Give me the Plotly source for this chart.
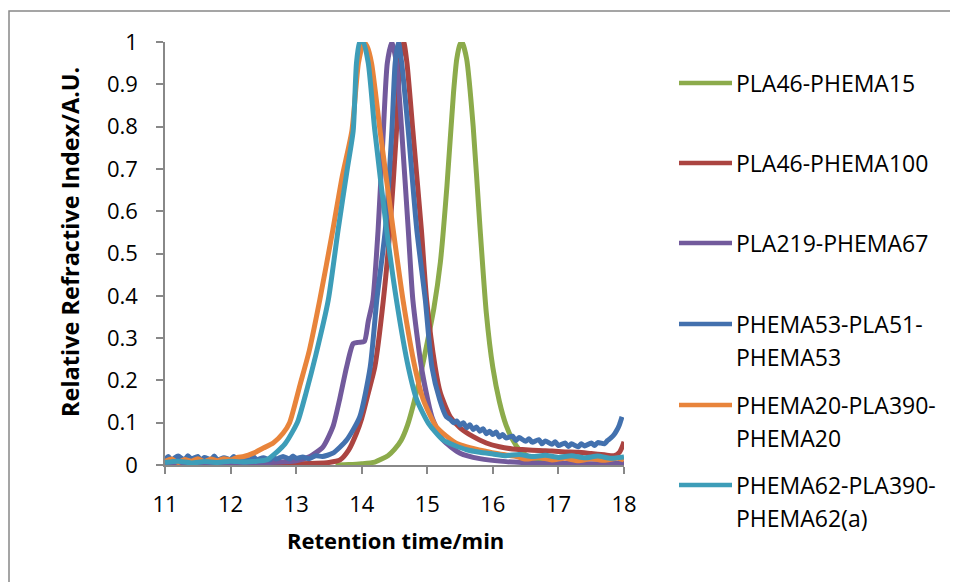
import plotly.graph_objects as go

# retention time (min) / relative refractive index
green_t = [13.6, 13.8, 14.0, 14.2, 14.4, 14.5, 14.6, 14.7, 14.8, 14.9, 15.0, 15.1, 15.2, 15.3, 15.4,
           15.45, 15.5, 15.53, 15.6, 15.7, 15.8, 15.9, 16.0, 16.1, 16.2, 16.3, 16.4, 16.5, 16.6, 16.8, 17.0]
green_ri = [0.0, 0.001, 0.003, 0.007, 0.022, 0.037, 0.058, 0.095, 0.15, 0.215, 0.29, 0.37, 0.48, 0.66, 0.88,
            0.96, 0.995, 1.0, 0.96, 0.8, 0.57, 0.36, 0.23, 0.15, 0.095, 0.06, 0.037, 0.024, 0.015, 0.007, 0.004]

red_t = [11.0, 11.5, 12.0, 12.5, 13.0, 13.3, 13.5, 13.67, 13.8, 13.92, 14.0, 14.1, 14.2, 14.33, 14.43, 14.53,
         14.58, 14.64, 14.69, 14.78, 14.91, 14.99, 15.12, 15.2, 15.35, 15.5, 15.7, 15.9, 16.1, 16.3, 16.5, 16.7,
         16.9, 17.1, 17.3, 17.5, 17.7, 17.85, 17.93, 17.97, 18.0]
red_ri = [0.003, 0.002, 0.004, 0.002, 0.003, 0.004, 0.006, 0.012, 0.035, 0.075, 0.11, 0.17, 0.232, 0.39, 0.556, 0.79,
          0.95, 1.0, 0.95, 0.79, 0.556, 0.39, 0.232, 0.17, 0.114, 0.088, 0.067, 0.052, 0.043, 0.038, 0.036, 0.034,
          0.033, 0.031, 0.03, 0.027, 0.024, 0.022, 0.03, 0.042, 0.055]

purple_t = [11.0, 11.4, 11.8, 12.2, 12.6, 13.0, 13.21, 13.41, 13.56, 13.67, 13.77, 13.87, 13.95, 14.04, 14.1,
            14.17, 14.25, 14.33, 14.39, 14.46, 14.53, 14.61, 14.71, 14.78, 14.91, 15.07, 15.24, 15.5, 15.8,
            16.2, 16.6, 17.0, 17.5, 18.0]
purple_ri = [0.005, 0.004, 0.006, 0.005, 0.006, 0.01, 0.02, 0.043, 0.09, 0.16, 0.232, 0.287, 0.29, 0.292, 0.34,
             0.39, 0.556, 0.79, 0.95, 1.0, 0.95, 0.79, 0.556, 0.39, 0.232, 0.114, 0.059, 0.028, 0.015,
             0.008, 0.005, 0.004, 0.003, 0.004]

blue_t = [11.0, 11.05, 11.1, 11.15, 11.2, 11.3, 11.35, 11.4, 11.5, 11.55, 11.6, 11.7, 11.75, 11.8, 11.9, 12.0,
          12.05, 12.1, 12.2, 12.3, 12.35, 12.4, 12.5, 12.6, 12.65, 12.7, 12.8, 12.9, 12.95, 13.0, 13.1, 13.2,
          13.3, 13.4, 13.56, 13.77, 13.97, 14.13, 14.23, 14.36, 14.46, 14.51,
          14.56, 14.61, 14.71, 14.84, 14.97, 15.07, 15.19, 15.29, 15.35, 15.4, 15.45, 15.5, 15.55, 15.6, 15.65,
          15.7, 15.75, 15.8, 15.85, 15.9, 15.95, 16.0, 16.05, 16.1, 16.15, 16.2, 16.3, 16.35, 16.4, 16.5, 16.55,
          16.6, 16.7, 16.75, 16.8, 16.9, 16.95, 17.0, 17.1, 17.15, 17.2, 17.3, 17.35, 17.4, 17.5, 17.55, 17.6,
          17.7, 17.75, 17.8, 17.85, 17.89, 17.93, 17.97, 18.0]
blue_ri = [0.012, 0.02, 0.01, 0.017, 0.021, 0.012, 0.022, 0.014, 0.02, 0.011, 0.018, 0.013, 0.021, 0.012, 0.017,
           0.013, 0.02, 0.011, 0.016, 0.012, 0.019, 0.013, 0.017, 0.012, 0.019, 0.014, 0.02, 0.014, 0.021, 0.016,
           0.019, 0.015, 0.022, 0.02, 0.028, 0.059, 0.114, 0.232, 0.39, 0.556, 0.79, 0.95,
           1.0, 0.95, 0.79, 0.556, 0.39, 0.232, 0.154, 0.114, 0.108, 0.1, 0.104, 0.094, 0.1, 0.088, 0.095,
           0.084, 0.09, 0.08, 0.086, 0.074, 0.08, 0.072, 0.078, 0.066, 0.072, 0.064, 0.068, 0.058, 0.065, 0.056,
           0.062, 0.054, 0.06, 0.05, 0.057, 0.049, 0.055, 0.046, 0.052, 0.044, 0.05, 0.043, 0.05, 0.045, 0.052,
           0.046, 0.053, 0.05, 0.058, 0.064, 0.072, 0.082, 0.095, 0.114]

orange_t = [11.0, 11.1, 11.2, 11.3, 11.4, 11.5, 11.6, 11.7, 11.8, 11.9, 12.0, 12.1, 12.2, 12.35, 12.5, 12.65,
            12.8, 12.9, 13.06, 13.2, 13.36, 13.56, 13.7, 13.85, 13.95, 14.03, 14.08, 14.15, 14.28, 14.48, 14.63,
            14.81, 14.94, 15.14, 15.45, 15.9, 16.1, 16.36, 16.5, 16.7, 16.9, 17.1, 17.3, 17.5, 17.7, 17.9, 18.0]
orange_ri = [0.008, 0.014, 0.006, 0.013, 0.009, 0.015, 0.008, 0.014, 0.01, 0.015, 0.012, 0.018, 0.02, 0.028,
             0.04, 0.052, 0.075, 0.1, 0.19, 0.27, 0.39, 0.556, 0.68, 0.79, 0.95, 1.0, 0.99, 0.95, 0.79, 0.556,
             0.39, 0.232, 0.154, 0.09, 0.051, 0.032, 0.026, 0.02, 0.014, 0.018, 0.012, 0.016, 0.01, 0.015, 0.011,
             0.016, 0.012]

cyan_t = [11.0, 11.2, 11.4, 11.6, 11.8, 12.0, 12.2, 12.4, 12.55, 12.7, 12.83, 12.95, 13.03, 13.15, 13.3, 13.49,
          13.64, 13.78, 13.87, 13.92, 13.97, 14.02, 14.1, 14.2, 14.38, 14.53, 14.71, 14.84, 15.02, 15.24, 15.6,
          15.8, 16.0, 16.2, 16.4, 16.6, 16.8, 17.0, 17.2, 17.4, 17.6, 17.8, 18.0]
cyan_ri = [0.006, 0.009, 0.005, 0.008, 0.006, 0.009, 0.007, 0.009, 0.012, 0.03, 0.05, 0.08, 0.105, 0.17, 0.26,
           0.39, 0.556, 0.7, 0.79, 0.95, 1.0, 1.0, 0.95, 0.79, 0.556, 0.39, 0.232, 0.154, 0.098, 0.059, 0.036,
           0.03, 0.026, 0.022, 0.025, 0.02, 0.023, 0.018, 0.022, 0.017, 0.021, 0.016, 0.019]

names = ["PLA46-PHEMA15", "PLA46-PHEMA100", "PLA219-PHEMA67",
         "PHEMA53-PLA51-PHEMA53", "PHEMA20-PLA390-PHEMA20", "PHEMA62-PLA390-PHEMA62(a)"]
legend_lines = [["PLA46-PHEMA15"], ["PLA46-PHEMA100"], ["PLA219-PHEMA67"],
                ["PHEMA53-PLA51-", "PHEMA53"], ["PHEMA20-PLA390-", "PHEMA20"], ["PHEMA62-PLA390-", "PHEMA62(a)"]]
colors = ["#8cab4b", "#ab4441", "#725a9c", "#4371ae", "#e8843b", "#3d9db8"]
series = [(green_t, green_ri), (red_t, red_ri), (purple_t, purple_ri),
          (blue_t, blue_ri), (orange_t, orange_ri), (cyan_t, cyan_ri)]

FONT = "Open Sans"
AXIS_GREY = "#888888"

# plot area in page pixels: x 165..624, y 42..465 (page body adds 8px offset)
L, R, T, B = 165, 624, 42, 465
W, H = 958, 582
OFF = 8


def px(x):
    return (x - L) / (R - L)


def py(y):
    return (B - y) / (B - T)


fig = go.Figure()
for (t, ri), name, c in zip(series, names, colors):
    fig.add_trace(go.Scatter(x=t, y=ri, mode="lines", name=name, showlegend=False,
                             line=dict(color=c, width=5, shape="spline", smoothing=0.6)))

# hand-built legend to mimic the Excel one
legend_y = [83, 163, 243, 324, 405, 485]
shapes = [dict(type="rect", xref="paper", yref="paper", x0=px(9), y0=py(11), x1=px(1200), y1=py(800),
               line=dict(color=AXIS_GREY, width=1.5), layer="below")]
annotations = []
for lines, c, ly in zip(legend_lines, colors, legend_y):
    shapes.append(dict(type="line", xref="paper", yref="paper", x0=px(679), x1=px(732), y0=py(ly), y1=py(ly),
                       line=dict(color=c, width=4.5)))
    for k, txt in enumerate(lines):
        annotations.append(dict(text=txt, xref="paper", yref="paper", x=px(734), y=py(ly + 33 * k),
                                xanchor="left", yanchor="middle", showarrow=False,
                                font=dict(family=FONT, size=23, color="black")))

annotations.append(dict(text="Relative Refractive Index/A.U.", xref="paper", yref="paper",
                        x=px(70), y=py(242), textangle=-90, showarrow=False,
                        xanchor="center", yanchor="middle",
                        font=dict(family=FONT, size=23.5, color="black", weight="bold")))
annotations.append(dict(text="Retention time/min", xref="paper", yref="paper",
                        x=px(395), y=py(540), showarrow=False, xanchor="center", yanchor="middle",
                        font=dict(family=FONT, size=22, color="black", weight="bold")))

fig.update_layout(
    width=W, height=H,
    margin=dict(l=L - OFF, r=W - (R - OFF), t=T - OFF, b=H - (B - OFF)),
    paper_bgcolor="white", plot_bgcolor="white",
    shapes=shapes, annotations=annotations,
    font=dict(family=FONT, color="black"),
)
fig.update_xaxes(range=[11, 18], dtick=1, tick0=11, showgrid=False, zeroline=False,
                 showline=True, linecolor=AXIS_GREY, linewidth=1.5,
                 ticks="outside", ticklen=7, tickwidth=1.5, tickcolor=AXIS_GREY,
                 ticklabelstandoff=12, tickfont=dict(family=FONT, size=22, color="black"))
fig.update_yaxes(range=[0, 1], dtick=0.1, tick0=0, showgrid=False, zeroline=False,
                 showline=True, linecolor=AXIS_GREY, linewidth=1.5,
                 ticks="outside", ticklen=7, tickwidth=1.5, tickcolor=AXIS_GREY,
                 ticklabelstandoff=14, tickfont=dict(family=FONT, size=22, color="black"))

fig.write_html("out.html")
